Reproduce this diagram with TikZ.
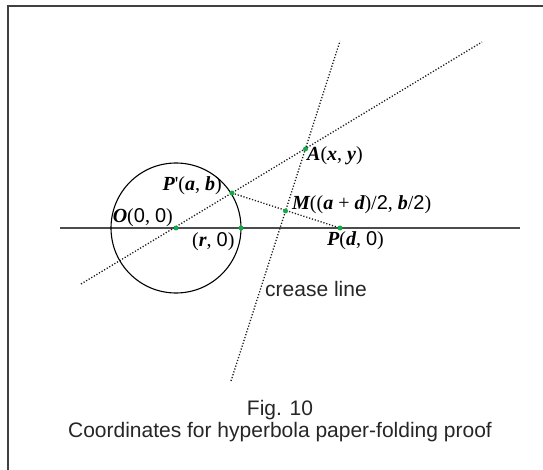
\documentclass[tikz,border=0pt]{standalone}
\usepackage{fontspec}
\setmainfont{Liberation Sans}
\newfontfamily\lser{Liberation Serif}
\newcommand\mv[1]{{\lser\bfseries\itshape #1}}
\newcommand\pp[1]{{\lser #1}}
\definecolor{dotgreen}{RGB}{20,170,70}
\begin{document}
\begin{tikzpicture}[x=1pt,y=-1pt,
  frame/.style={draw=black!75,line width=1.3pt},
  axisline/.style={draw=black!70,line width=1.3pt},
  dotline/.style={draw=black!90,line width=1.3pt,dash pattern=on 1.2pt off 1.8pt},
  gdot/.style={circle,fill=dotgreen,inner sep=0pt,minimum size=5pt},
  lab/.style={inner sep=0pt,font=\fontsize{20}{23}\selectfont},
  captext/.style={inner sep=0pt,font=\fontsize{21}{24}\selectfont,text=black!85}]
\useasboundingbox (0,0) rectangle (543,470);
% frame (right and bottom edges lie outside the picture)
\coordinate (F1) at (8,470);
\coordinate (F2) at (8,6);
\coordinate (F3) at (543,6);
\draw[frame] (F1) -- (F2) -- (F3);
% key points
\coordinate (O) at (176,228);
\coordinate (R) at (241,228);
\coordinate (Pp) at (232,193);
\coordinate (M) at (285.5,211);
\coordinate (A) at (305.5,149);
\coordinate (P) at (340,228);
\coordinate (X1) at (60,228);
\coordinate (X2) at (520,228);
\coordinate (L1) at (81,284);
\coordinate (L2) at (482,42);
\coordinate (C1) at (231,381);
\coordinate (C2) at (340,41);
% lines
\draw[axisline] (X1) -- (X2);
\draw[line width=1.1pt] (O) circle[radius=65];
\draw[dotline] (L1) -- (L2);
\draw[dotline] (C1) -- (C2);
\draw[dotline] (Pp) -- (P);
% dots
\foreach \p in {O,R,Pp,M,A,P} \node[gdot] at (\p) {};
% labels
\node[lab,anchor=east] (lO) at (173,218) {\mv{O}\pp{(}0\pp{, }0\pp{)}};
\node[lab,anchor=east] (lPp) at (222,186) {\mv{P}\pp{'(}\mv{a}\pp{, }\mv{b}\pp{)}};
\node[lab,anchor=west] (lR) at (192,242) {\pp{(}\mv{r}\pp{, }0\pp{)}};
\node[lab,anchor=west] (lA) at (307,156) {\mv{A}\pp{(}\mv{x}\pp{, }\mv{y}\pp{)}};
\node[lab,anchor=west] (lM) at (292,205) {\mv{M}\pp{((}\mv{a}\pp{ + }\mv{d}\pp{)/}2\pp{, }\mv{b}\pp{/}2\pp{)}};
\node[lab,anchor=west] (lP) at (327,241) {\mv{P}\pp{(}\mv{d}\pp{, }0\pp{)}};
\node[captext,anchor=west] (lC) at (265,289) {crease line};
\node[captext] (fig) at (280,410) {Fig. 10};
\node[captext] (cpt) at (280,432) {Coordinates for hyperbola paper-folding proof};
\end{tikzpicture}
\end{document}
